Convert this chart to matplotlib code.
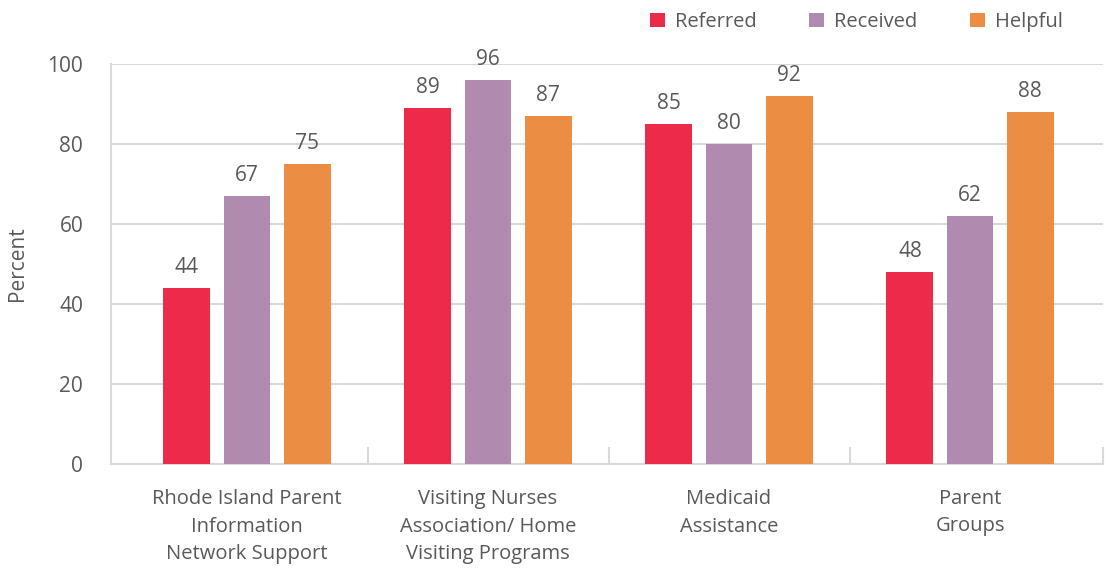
import matplotlib.pyplot as plt
import numpy as np

# data
categories = ["Rhode Island Parent\nInformation\nNetwork Support",
              "Visiting Nurses\nAssociation/ Home\nVisiting Programs",
              "Medicaid\nAssistance",
              "Parent\nGroups"]
series_names = ["Referred", "Received", "Helpful"]
referred = [44, 89, 85, 48]
received = [67, 96, 80, 62]
helpful = [75, 87, 92, 88]
yticks = [0, 20, 40, 60, 80, 100]

colors = ["#EE2A4B", "#B08BAF", "#EB8D42"]
text_col = "#595959"
grid_col = "#D9D9D9"

plt.rcParams["font.family"] = ["Open Sans", "DejaVu Sans"]

fig = plt.figure(figsize=(11.08, 5.68), dpi=100)
ax = fig.add_axes([111 / 1108, 104 / 568, 992 / 1108, 400 / 568])

x = np.arange(len(categories))
width = 0.195
step = 0.249
for i, (name, vals) in enumerate(zip(series_names, [referred, received, helpful])):
    pos = x + (i - 1) * step
    bars = ax.bar(pos, vals, width, color=colors[i], label=name, zorder=3)
    for b, v in zip(bars, vals):
        ax.annotate(str(v), (b.get_x() + b.get_width() / 2, v),
                    xytext=(0, 7), textcoords="offset points",
                    ha="center", va="bottom", fontsize=15, color=text_col)

left = -0.5 - 15.5 / 241
right = 3.5 + 12.5 / 241
ax.set_xlim(left, right)
ax.set_ylim(0, 100)

ax.set_yticks(yticks)
ax.yaxis.grid(True, color=grid_col, linewidth=1.5, zorder=0)
ax.tick_params(axis="y", length=0, pad=20, labelsize=15, labelcolor=text_col)

ax.set_xticks(x)
ax.set_xticklabels(categories, fontsize=14.5, color=text_col, linespacing=1.5)
ax.tick_params(axis="x", length=0, pad=18)
ax.set_xticks([0.5, 1.5, 2.5, right], minor=True)
ax.tick_params(axis="x", which="minor", direction="in", length=12,
               width=1.5, color=grid_col)

for s in ["top", "right"]:
    ax.spines[s].set_visible(False)
for s in ["left", "bottom"]:
    ax.spines[s].set_color(grid_col)
    ax.spines[s].set_linewidth(1.5)

ax.set_ylabel("Percent", fontsize=15, color=text_col, labelpad=14)

leg = ax.legend(loc="lower left", bbox_to_anchor=(0.535, 1.06), ncol=3,
                frameon=False, fontsize=14.5, handlelength=0.75, handleheight=0.75,
                handletextpad=0.5, columnspacing=2.6, borderaxespad=0)
for t in leg.get_texts():
    t.set_color(text_col)

fig.savefig("out.png", dpi=100)
